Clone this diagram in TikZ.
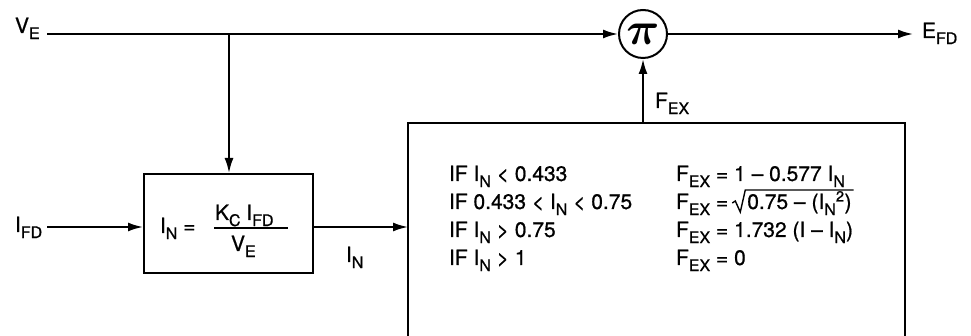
\documentclass[tikz,border=0pt]{standalone}
\usepackage{graphicx}
\usepackage{fontspec}
\setmainfont{TeX Gyre Heros}[FakeBold=0.8]
\usetikzlibrary{arrows.meta,calc}
\newcommand\sbx[1]{\raisebox{-0.55ex}{\fontsize{16}{16}\selectfont #1}}
\newcommand\pisym{\scalebox{4.6}{\boldmath$\pi$}}
\begin{document}
\begin{tikzpicture}[x=1pt,y=-1pt, line width=2pt,
  arr/.style={-{Latex[length=15pt,width=9pt]}},
  lbl/.style={font=\fontsize{21}{21}\selectfont, inner sep=0pt},
  txt/.style={font=\fontsize{21}{21}\selectfont, inner sep=0pt, anchor=base west}]
\useasboundingbox (0,0) rectangle (971,336);
% labels
\node[lbl, anchor=base west] (ve) at (14,33) {V\sbx{E}};
\node[lbl, anchor=base west] (ifd) at (14,232) {I\sbx{FD}};
\node[lbl, anchor=base west] (efd) at (921,38) {E\sbx{FD}};
\node[lbl, anchor=base west] (fex) at (654,108) {F\sbx{EX}};
\node[lbl, anchor=base west] (inl) at (345,262) {I\sbx{N}};
% multiplier
\node[circle, draw, minimum size=48pt, inner sep=0pt] (mult) at (643,34) {\pisym};
% small box
\node[draw, minimum width=169pt, minimum height=99pt, anchor=north west] (b1) at (143,173) {};
\node[txt] (eq) at (159,233) {I\sbx{N} =};
\node[txt] (num) at (214,220) {K\sbx{C} I\sbx{FD}};
\node[txt] (den) at (230,251) {V\sbx{E}};
\draw[line width=1.6pt] (214,228) -- (288,228);
% big box (open at the bottom)
\node[minimum width=495pt, minimum height=220pt, anchor=north west, inner sep=0pt] (b2) at (408,123) {};
\draw (b2.south west) -- (b2.north west) -- (b2.north east) -- (b2.south east);
\node[txt] (r1) at (448,181) {IF I\sbx{N} < 0.433};
\node[txt] (r2) at (448,209) {IF 0.433 < I\sbx{N} < 0.75};
\node[txt] (r3) at (448,237) {IF I\sbx{N} > 0.75};
\node[txt] (r4) at (448,265) {IF I\sbx{N} > 1};
\node[txt] (f1) at (675,181) {F\sbx{EX} = 1 – 0.577 I\sbx{N}};
\node[txt] (f2) at (675,209) {F\sbx{EX} =};
\node[txt] (rad) at ($(f2.base east)+(17,0)$) {0.75 – (I\sbx{N}\textsuperscript{2})};
\draw[line width=1.4pt, line join=miter]
  ($(rad.base west)+(-14,-6)$) -- ($(rad.base west)+(-11,-8)$)
  -- ($(rad.base west)+(-6,3)$) -- ($(rad.base west)+(-1,-19)$)
  -- ($(rad.base east)+(1,-19)$);
\node[txt] (f3) at (675,237) {F\sbx{EX} = 1.732 (I – I\sbx{N})};
\node[txt] (f4) at (675,265) {F\sbx{EX} = 0};
% connectors
\coordinate (vs) at (47,34);
\coordinate (j) at (229,34);
\coordinate (is) at (47,227);
\coordinate (eo) at (913,34);
\draw[arr] (vs) -- (mult.west);
\draw[arr] (j) -- (j |- b1.north);
\draw[arr] (is) -- (is -| b1.west);
\draw[arr] (is -| b1.east) -- (is -| b2.west);
\draw[arr] (mult |- b2.north) -- (mult.south);
\draw[arr] (mult.east) -- (eo);
\end{tikzpicture}
\end{document}
